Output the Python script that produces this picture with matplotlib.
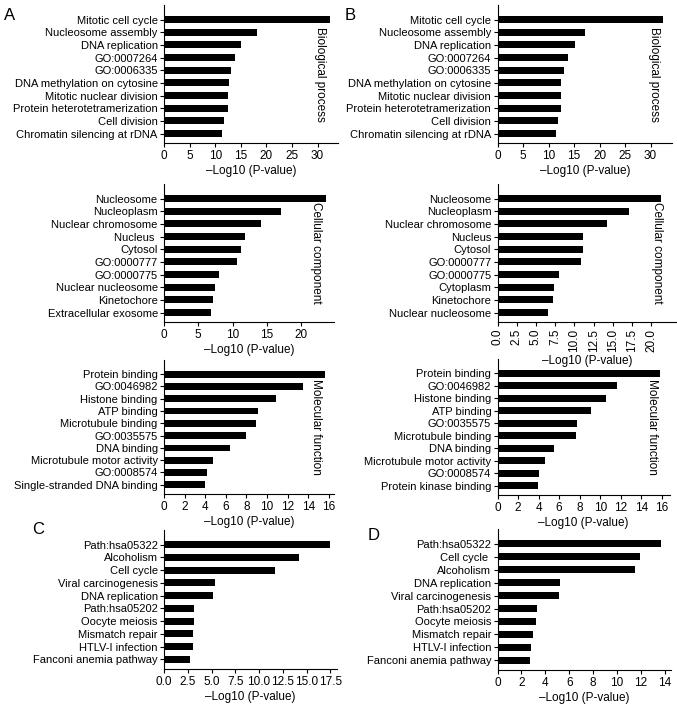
import matplotlib
matplotlib.use("Agg")
import matplotlib.pyplot as plt
import numpy as np

plt.rcParams["font.family"] = ["Liberation Sans", "DejaVu Sans"]
plt.rcParams["font.size"] = 8

# ---- data ----
bp_a_terms = ["Mitotic cell cycle", "Nucleosome assembly", "DNA replication",
              "GO:0007264", "GO:0006335", "DNA methylation on cytosine",
              "Mitotic nuclear division", "Protein heterotetramerization",
              "Cell division", "Chromatin silencing at rDNA"]
bp_a_vals = [32.4, 18.1, 15.1, 13.8, 13.0, 12.7, 12.5, 12.5, 11.8, 11.4]

bp_b_terms = bp_a_terms
bp_b_vals = [32.4, 17.2, 15.1, 13.8, 13.0, 12.5, 12.5, 12.4, 11.9, 11.4]

cc_a_terms = ["Nucleosome", "Nucleoplasm", "Nuclear chromosome", "Nucleus ",
              "Cytosol", "GO:0000777", "GO:0000775", "Nuclear nucleosome",
              "Kinetochore", "Extracellular exosome"]
cc_a_vals = [23.6, 17.0, 14.1, 11.8, 11.2, 10.7, 8.0, 7.4, 7.2, 6.9]

cc_b_terms = ["Nucleosome", "Nucleoplasm", "Nuclear chromosome", "Nucleus",
              "Cytosol", "GO:0000777", "GO:0000775", "Cytoplasm",
              "Kinetochore", "Nuclear nucleosome"]
cc_b_vals = [21.2, 17.1, 14.2, 11.1, 11.1, 10.8, 8.0, 7.4, 7.2, 6.6]

mf_a_terms = ["Protein binding", "GO:0046982", "Histone binding", "ATP binding",
              "Microtubule binding", "GO:0035575", "DNA binding",
              "Microtubule motor activity", "GO:0008574",
              "Single-stranded DNA binding"]
mf_a_vals = [15.6, 13.5, 10.9, 9.1, 8.9, 8.0, 6.4, 4.8, 4.2, 4.0]

mf_b_terms = ["Protein binding", "GO:0046982", "Histone binding", "ATP binding",
              "GO:0035575", "Microtubule binding", "DNA binding",
              "Microtubule motor activity", "GO:0008574",
              "Protein kinase binding"]
mf_b_vals = [15.8, 11.6, 10.6, 9.1, 7.7, 7.6, 5.5, 4.6, 4.0, 3.9]

kegg_c_terms = ["Path:hsa05322", "Alcoholism", "Cell cycle",
                "Viral carcinogenesis", "DNA replication", "Path:hsa05202",
                "Oocyte meiosis", "Mismatch repair", "HTLV-I infection",
                "Fanconi anemia pathway"]
kegg_c_vals = [17.5, 14.2, 11.7, 5.4, 5.2, 3.2, 3.2, 3.0, 3.0, 2.7]

kegg_d_terms = ["Path:hsa05322", "Cell cycle ", "Alcoholism", "DNA replication",
                "Viral carcinogenesis", "Path:hsa05202", "Oocyte meiosis",
                "Mismatch repair", "HTLV-I infection", "Fanconi anemia pathway"]
kegg_d_vals = [13.7, 11.9, 11.5, 5.2, 5.1, 3.3, 3.2, 3.0, 2.8, 2.7]

W, H = 677, 705
fig = plt.figure(figsize=(W / 100, H / 100), dpi=100)


def add_ax(left, top, right, bottom):
    return fig.add_axes([left / W, 1 - bottom / H, (right - left) / W, (bottom - top) / H])


def bar_panel(ax, terms, vals, xmax, ticks, side=None, rot=0):
    y = np.arange(len(terms))
    ax.barh(y, vals, height=0.55, color="black")
    ax.set_yticks(y)
    ax.set_yticklabels(terms)
    ax.set_ylim(len(terms) - 0.25, -1.15)
    ax.set_xlim(0, xmax)
    ax.set_xticks(ticks)
    if rot:
        ax.tick_params(axis="x", labelrotation=rot)
    ax.patch.set_visible(False)
    ax.spines["top"].set_visible(False)
    ax.spines["right"].set_visible(False)
    for s in ["left", "bottom"]:
        ax.spines[s].set_linewidth(0.8)
    ax.tick_params(length=3, width=0.8, pad=1.5, labelsize=8)
    ax.tick_params(axis="x", labelsize=8.5, pad=2)
    ax.set_xlabel("\u2013Log10 (P-value)", fontsize=8.5, labelpad=2)
    if side:
        ax.text(0.895, 0.5, side, transform=ax.transAxes, rotation=-90,
                ha="center", va="center", fontsize=8.5)


colA = 164
colB = 497.5

ax = add_ax(colA, 5, 338, 143)
bar_panel(ax, bp_a_terms, bp_a_vals, 34.0, np.arange(0, 31, 5), "Biological process")
ax = add_ax(colB, 5, 672, 143)
bar_panel(ax, bp_b_terms, bp_b_vals, 34.2, np.arange(0, 31, 5), "Biological process")

ax = add_ax(colA, 184, 334, 322)
bar_panel(ax, cc_a_terms, cc_a_vals, 24.8, np.arange(0, 21, 5), "Cellular component")
ax = add_ax(colB, 184, 676, 322)
bar_panel(ax, cc_b_terms, cc_b_vals, 23.2, np.arange(0, 20.1, 2.5), "Cellular component", rot=90)

ax = add_ax(colA, 360, 334, 494)
bar_panel(ax, mf_a_terms, mf_a_vals, 16.5, np.arange(0, 17, 2), "Molecular function")
ax = add_ax(colB, 359, 670, 495)
bar_panel(ax, mf_b_terms, mf_b_vals, 16.8, np.arange(0, 17, 2), "Molecular function")

ax = add_ax(colA, 530, 337, 669)
bar_panel(ax, kegg_c_terms, kegg_c_vals, 18.2, np.arange(0, 17.6, 2.5))
ax = add_ax(colB, 529, 671, 670)
bar_panel(ax, kegg_d_terms, kegg_d_vals, 14.5, np.arange(0, 15, 2))

for letter, (px, py) in zip("ABCD", [(10, 16), (350, 15), (38, 529), (374, 536)]):
    fig.text(px / W, 1 - py / H, letter, fontsize=12, ha="center", va="center")

fig.savefig("out.png", dpi=100)
